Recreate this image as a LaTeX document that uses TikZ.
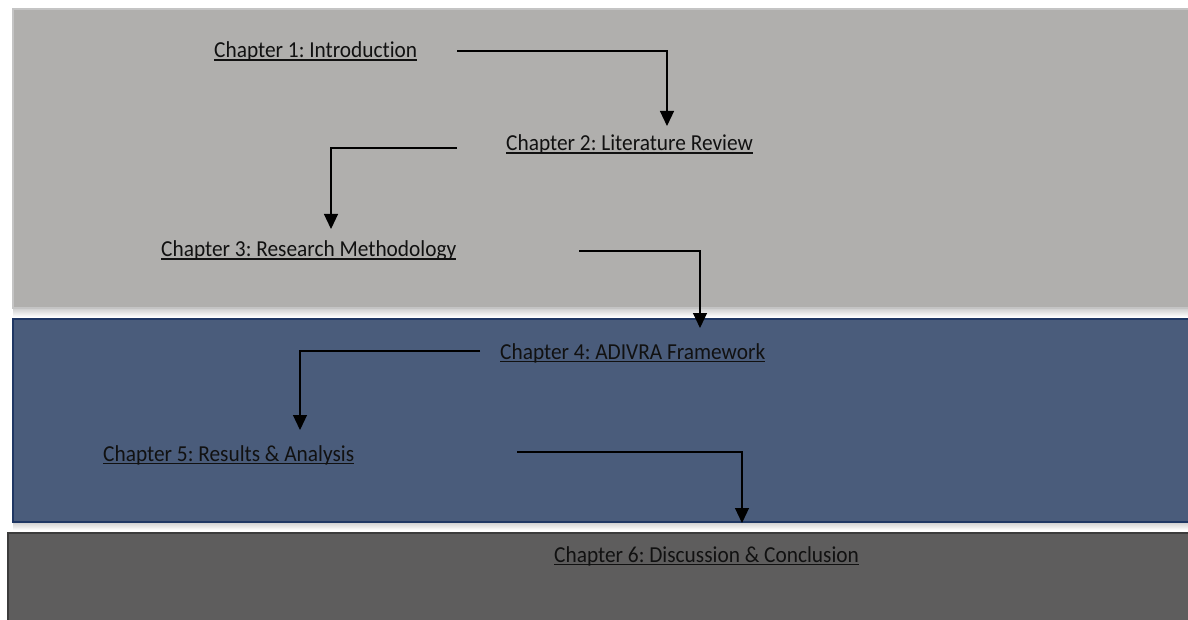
\documentclass[tikz,border=0pt]{standalone}
\usepackage{fontspec}
\usepackage{graphicx}
\setmainfont[Ligatures=NoCommon]{Carlito}
\usetikzlibrary{arrows.meta}
\frenchspacing

% underlined chapter label with a solid rule just below the baseline
\newcommand\chapul[1]{\setbox0\hbox{\scalebox{1}[1.07]{#1}}\rlap{\raisebox{-2.6pt}{\rule{\wd0}{1.1pt}}}\box0}

\definecolor{bandlight}{HTML}{B0AFAD}
\definecolor{bandlightedge}{HTML}{C4C4C4}
\definecolor{bandblue}{HTML}{4A5C7B}
\definecolor{bandblueedge}{HTML}{1F3763}
\definecolor{banddark}{HTML}{5E5D5D}
\definecolor{banddarkedge}{HTML}{3C3C3C}
\definecolor{labeltext}{HTML}{111111}

\tikzset{
  chapter/.style={anchor=base west, inner sep=0pt, text=labeltext,
    font=\fontsize{21.35}{25}\selectfont},
  link/.style={draw=black, line width=1.2pt,
    -{Triangle[width=14pt,length=15pt]}},
  dropshadow/.style={top color=black!22, bottom color=white, draw=none}
}

\begin{document}
\begin{tikzpicture}[x=1pt,y=-1pt]
  \useasboundingbox (0,0) rectangle (1188,620);
  \fill[white] (0,0) rectangle (1188,620);

  % horizontal bands
  \shade[dropshadow] (13,307) rectangle (1188,317);
  \filldraw[fill=bandlight, draw=bandlightedge, line width=1.5pt]
    (13,9) rectangle (1192,308);
  \shade[dropshadow] (13,521) rectangle (1188,530);
  \filldraw[fill=bandblue, draw=bandblueedge, line width=1.6pt]
    (13,319) rectangle (1192,522);
  \filldraw[fill=banddark, draw=banddarkedge, line width=2pt]
    (8,533) rectangle (1192,625);

  % chapter labels
  \node[chapter] (ch1) at (214,58)  {\chapul{Chapter 1: Introduction}};
  \node[chapter] (ch2) at (506,151) {\chapul{Chapter 2: Literature Review}};
  \node[chapter] (ch3) at (161,257) {\chapul{Chapter 3: Research Methodology}};
  \node[chapter] (ch4) at (500,359) {\chapul{Chapter 4: ADIVRA Framework}};
  \node[chapter] (ch5) at (103,461) {\chapul{Chapter 5: Results \& Analysis}};
  \node[chapter] (ch6) at (554,562) {\chapul{Chapter 6: Discussion \& Conclusion}};

  % connectors between consecutive chapters
  \draw[link] ([shift={(243pt,7pt)}]ch1.base west) -| ([shift={(161pt,25pt)}]ch2.base west);
  \draw[link] ([shift={(-49pt,3pt)}]ch2.base west) -| ([shift={(170pt,28pt)}]ch3.base west);
  \draw[link] ([shift={(418pt,6pt)}]ch3.base west) -| ([shift={(200pt,31pt)}]ch4.base west);
  \draw[link] ([shift={(-20pt,8pt)}]ch4.base west) -| ([shift={(197pt,31pt)}]ch5.base west);
  \draw[link] ([shift={(414pt,9pt)}]ch5.base west) -| ([shift={(188pt,39pt)}]ch6.base west);
\end{tikzpicture}
\end{document}
